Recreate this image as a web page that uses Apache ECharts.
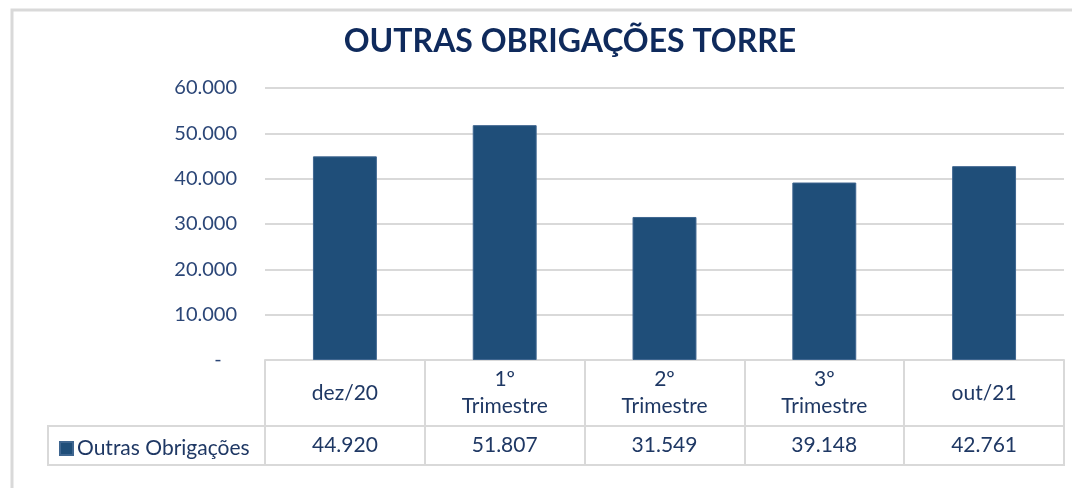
<!DOCTYPE html>
<html>
<head>
    <meta charset="utf-8">
    <title>Outras Obrigações Torre</title>
    <script src="https://cdn.jsdelivr.net/npm/echarts@6/dist/echarts.min.js"></script>
    <style type="text/css">
        html, body {
            margin: 0;
            padding: 0;
            background: #ffffff;
        }
        #chart {
            width: 1072px;
            height: 488px;
        }
    </style>
</head>
<body>
<div id="chart"></div>
<script>
    // dados do gráfico
    var categories = ['dez/20', '1º\nTrimestre', '2º\nTrimestre', '3º\nTrimestre', 'out/21'];
    var serieNome = 'Outras Obrigações';
    var valores = [44920, 51807, 31549, 39148, 42761];
    var yTicks = [0, 10000, 20000, 30000, 40000, 50000, 60000];

    // formato pt-BR: 44.920
    function fmt(v) {
        return String(v).replace(/\B(?=(\d{3})+(?!\d))/g, '.');
    }

    var fonte = 'Lato, "Open Sans", sans-serif';
    var cinza = '#d9d9d9';

    var chart = echarts.init(document.getElementById('chart'));

    var option = {
        animation: false,
        title: {
            text: 'OUTRAS OBRIGAÇÕES TORRE',
            left: 565,
            top: 21,
            textAlign: 'center',
            textStyle: {
                fontFamily: fonte,
                fontWeight: 'bold',
                fontSize: 32,
                color: '#0f2a5c'
            }
        },
        legend: {
            data: [serieNome],
            left: 54,
            top: 433,
            icon: 'rect',
            itemWidth: 13,
            itemHeight: 13,
            itemGap: 6,
            selectedMode: false,
            textStyle: {
                fontFamily: fonte,
                fontSize: 21,
                color: '#1f3864',
                padding: [0, 0, 0, -1]
            }
        },
        grid: {
            left: 265,
            right: 8,
            top: 88,
            bottom: 128,
            containLabel: false
        },
        xAxis: [{
            type: 'category',
            data: categories,
            axisLine: {lineStyle: {color: cinza, width: 2}},
            axisTick: {
                show: true,
                alignWithLabel: false,
                length: 105,
                lineStyle: {color: cinza, width: 2}
            },
            axisLabel: {
                margin: 33,
                verticalAlign: 'middle',
                fontFamily: fonte,
                fontSize: 21,
                lineHeight: 27,
                color: '#1f3864'
            }
        }, {
            type: 'category',
            position: 'bottom',
            offset: 85,
            data: valores.map(fmt),
            axisLine: {show: false},
            axisTick: {show: false},
            axisLabel: {
                margin: 0,
                verticalAlign: 'middle',
                fontFamily: fonte,
                fontSize: 21,
                color: '#1f3864'
            }
        }],
        yAxis: {
            type: 'value',
            min: yTicks[0],
            max: yTicks[yTicks.length - 1],
            interval: 10000,
            axisLine: {show: false},
            axisTick: {show: false},
            splitLine: {lineStyle: {color: cinza, width: 2}},
            axisLabel: {
                margin: 28,
                fontFamily: fonte,
                fontSize: 20,
                color: '#2b4677',
                formatter: function (v) {
                    return v === 0 ? '-   ' : fmt(v);
                }
            }
        },
        series: [{
            name: serieNome,
            type: 'bar',
            xAxisIndex: 0,
            barWidth: '40%',
            data: valores,
            itemStyle: {
                color: '#1f4e79',
                borderColor: '#3f6690',
                borderWidth: 1
            }
        }],
        graphic: [{
            // moldura do gráfico
            type: 'rect',
            shape: {x: 12, y: 10, width: 1100, height: 520},
            style: {fill: 'none', stroke: cinza, lineWidth: 3},
            silent: true
        }, {
            // linha da tabela de dados
            type: 'rect',
            shape: {x: 48, y: 426, width: 1016, height: 39},
            style: {fill: 'none', stroke: cinza, lineWidth: 2},
            silent: true
        }]
    };

    chart.setOption(option);
</script>
</body>
</html>
